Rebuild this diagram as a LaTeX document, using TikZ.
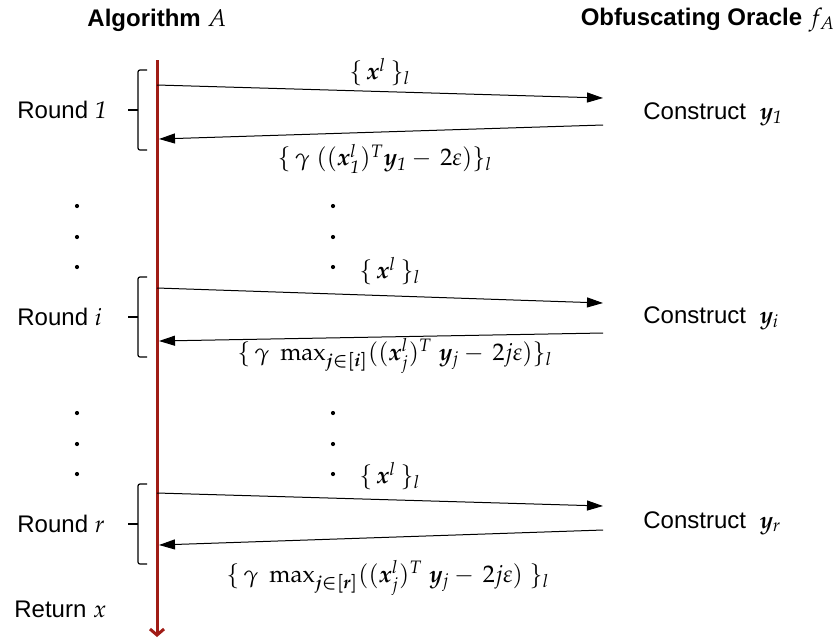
\documentclass[tikz,border=0pt]{standalone}
\usepackage{mathpazo}
\usepackage{bm}
\usepackage[no-math]{fontspec}
\setmainfont{Liberation Sans}
\usetikzlibrary{arrows.meta}
\definecolor{lifered}{RGB}{160,28,22}

\begin{document}
\begin{tikzpicture}[
        x=0.5pt, y=-0.5pt,
        font=\fontsize{12}{14}\selectfont,
        % Define styles for the nodes
        header/.style={font=\fontsize{12}{14}\selectfont\bfseries, inner sep=0pt},
        roundname/.style={anchor=west, inner sep=0pt},
        construct/.style={anchor=west, inner sep=0pt},
        msg/.style={inner sep=0pt},
        msgarrow/.style={draw=black, line width=0.5pt, -{Triangle[length=8pt,width=5pt]}},
        lifeline/.style={draw=lifered, line width=1.5pt, -{Straight Barb[length=3pt,width=7pt]}},
        bracket/.style={draw=black, line width=0.6pt, rounded corners=1pt}
    ]
        \useasboundingbox (0,0) rectangle (838,638);

        % --- Headers ---
        \node[header] (alg) at (157,20) {Algorithm $A$};
        \node[header] (oracle) at (708,20) {Obfuscating Oracle $f_A$};

        % --- Lifeline of the algorithm ---
        \coordinate (top) at (157,60);
        \coordinate (bottom) at (157,637);
        \draw[lifeline] (top) -- (bottom);

        % --- Rounds ---
        \node[roundname] (round1) at (17,110) {Round $\mathit{1}$};
        \node[roundname] (roundi) at (17,317) {Round $i$};
        \node[roundname] (roundr) at (17,524) {Round $r$};
        \node[roundname] (ret) at (14,609) {Return $x$};

        \foreach \t in {70,277,484} {
            \draw[bracket] (147,\t) -- (138,\t) -- (138,\t+80) -- (147,\t+80);
            \draw[bracket] (138,\t+40) -- (128,\t+40);
        }

        % dots between the rounds
        \foreach \y in {206,237,267,413,444,474} {
            \fill (77,\y) circle (2.1);
            \fill (333,\y) circle (2.1);
        }

        % --- Oracle side ---
        \node[construct] (cons1) at (643,114) {Construct\ \ $\bm{y}_{\mathit{1}}$};
        \node[construct] (consi) at (643,318) {Construct\ \ $\bm{y}_{i}$};
        \node[construct] (consr) at (643,523) {Construct\ \ $\bm{y}_{r}$};

        % --- Messages ---
        \coordinate (q1s) at (157,85);  \coordinate (q1e) at (603,98);
        \coordinate (a1s) at (603,125); \coordinate (a1e) at (159,139);
        \coordinate (qis) at (157,288); \coordinate (qie) at (603,303);
        \coordinate (ais) at (603,333); \coordinate (aie) at (159,341);
        \coordinate (qrs) at (157,493); \coordinate (qre) at (603,506);
        \coordinate (ars) at (603,530); \coordinate (are) at (159,545);

        \draw[msgarrow] (q1s) -- (q1e);
        \draw[msgarrow] (a1s) -- (a1e);
        \draw[msgarrow] (qis) -- (qie);
        \draw[msgarrow] (ais) -- (aie);
        \draw[msgarrow] (qrs) -- (qre);
        \draw[msgarrow] (ars) -- (are);

        \node[msg] (q1) at (380,72) {$\{\,\bm{x}^{l}\,\}_{l}$};
        \node[msg] (a1) at (385,159) {$\{\,\gamma\;((\bm{x}^{l}_{\mathit{1}})^{T}\bm{y}_{\mathit{1}} -\, 2\varepsilon)\}_{l}$};
        \node[msg] (qi) at (390,271) {$\{\,\bm{x}^{l}\,\}_{l}$};
        \node[msg] (ai) at (395,356) {$\{\,\gamma\;\max_{\bm{j\in[i]}}((\bm{x}^{l}_{j})^{T}\;\bm{y}_{j} -\, 2j\varepsilon)\}_{l}$};
        \node[msg] (qr) at (390,476) {$\{\,\bm{x}^{l}\,\}_{l}$};
        \node[msg] (ar) at (388,578) {$\{\,\gamma\;\max_{\bm{j\in[r]}}((\bm{x}^{l}_{j})^{T}\;\bm{y}_{j} -\, 2j\varepsilon)\;\}_{l}$};

    \end{tikzpicture}
\end{document}
